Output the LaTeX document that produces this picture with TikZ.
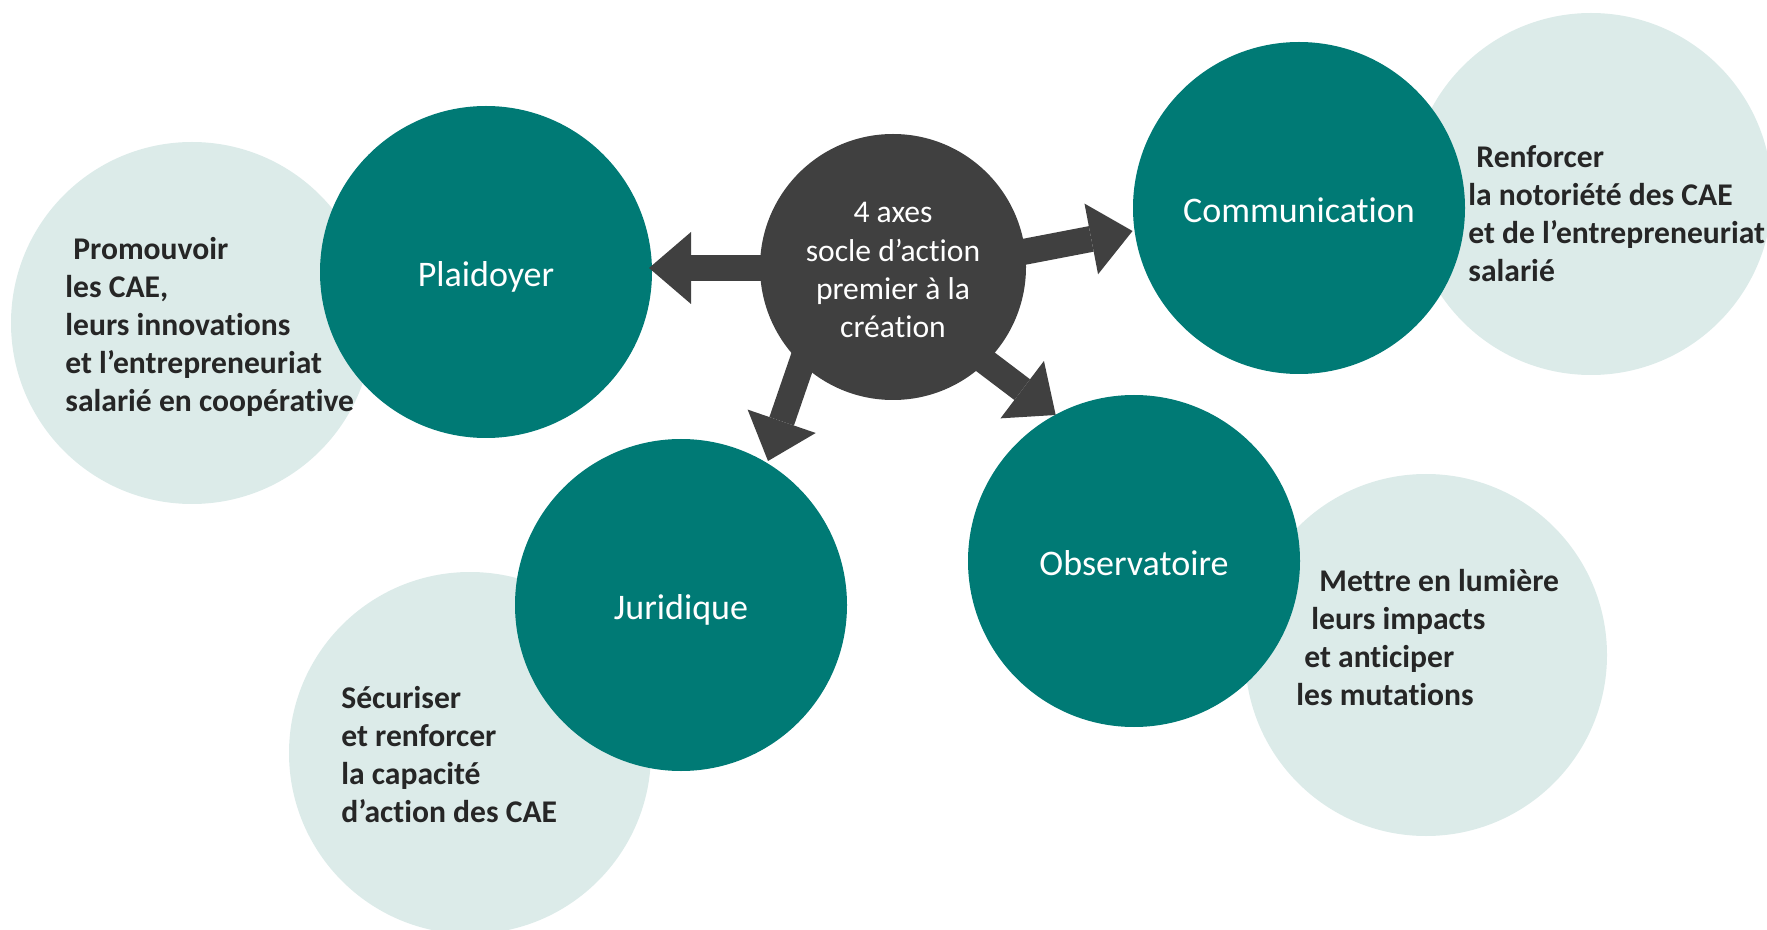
\documentclass[tikz,border=0pt]{standalone}
\usepackage{fontspec}
\setmainfont{Carlito}[Ligatures=NoCommon]
\usetikzlibrary{arrows.meta}
\definecolor{tealc}{HTML}{007A75}
\definecolor{palec}{HTML}{DCEBE9}
\definecolor{darkc}{HTML}{404040}
\definecolor{txtc}{HTML}{262626}
\begin{document}
\begin{tikzpicture}[x=0.5pt,y=-0.5pt,
  palecircle/.style={circle,fill=palec,minimum size=181pt,inner sep=0pt},
  axiscircle/.style={circle,fill=tealc,minimum size=166pt,inner sep=0pt,text=white,text height=14.8pt,text depth=0pt,font=\fontsize{18}{21.6}\selectfont},
  hubcircle/.style={circle,fill=darkc,minimum size=133pt,inner sep=0pt},
  hubtext/.style={text=white,align=center,inner sep=0pt,font=\fontsize{15.8}{19.1}\selectfont},
  desc/.style={text=txtc,font=\bfseries\fontsize{15.8}{19}\selectfont,align=left,anchor=west,inner sep=0pt},
  blockarrow/.style={draw=darkc,line width=13pt,-{Triangle[width=36pt,length=21pt,line width=0pt]}}
]
\useasboundingbox (0,0) rectangle (1767,930);
\clip (0,0) rectangle (1767,930);
% pale background circles
\node[palecircle] (pP) at (192,323) {};
\node[palecircle] (pC) at (1591,194) {};
\node[palecircle] (pJ) at (470,753) {};
\node[palecircle] (pO) at (1426,655) {};
% teal axis circles
\node[axiscircle] (plaid) at (486,272) {Plaidoyer};
\node[axiscircle] (comm) at (1299,208) {Communication};
\node[axiscircle] (jur) at (681,605) {Juridique};
\node[axiscircle] (obs) at (1134,561) {Observatoire};
% arrow tips
\coordinate (tP) at (649,268);
\coordinate (tC) at (1132.5,231);
\coordinate (tJ) at (768,461);
\coordinate (tO) at (1055.7,415);
% hub centre
\coordinate (hubc) at (893,267);
\draw[blockarrow] ([shift={(0,1)}]hubc) -- (tP);
\draw[blockarrow] ([shift={(0,10)}]hubc) -- (tC);
\draw[blockarrow] ([shift={(-60,5)}]hubc) -- (tJ);
\draw[blockarrow] ([shift={(-13,15)}]hubc) -- (tO);
\node[hubcircle] (hub) at (hubc) {};
\node[hubtext] (hubt) at ([yshift=-1.6pt]hub.center) {4 axes\\socle d’action\\premier à la\\création};
% descriptions
\node[desc] (dP) at (65,326.5) {\hspace*{4pt}Promouvoir\\les CAE,\\leurs innovations\\et l’entrepreneuriat\\salarié en coopérative};
\node[desc] (dC) at (1468,213.5) {\hspace*{4pt}Renforcer\\la notoriété des CAE\\et de l’entrepreneuriat\\salarié};
\node[desc] (dO) at (1296,638) {\hspace*{11.5pt}Mettre en lumière\\\hspace*{7.5pt}leurs impacts\\\hspace*{4pt}et anticiper\\les mutations};
\node[desc] (dJ) at (341,754.5) {Sécuriser\\et renforcer\\la capacité\\d’action des CAE};
\end{tikzpicture}
\end{document}
